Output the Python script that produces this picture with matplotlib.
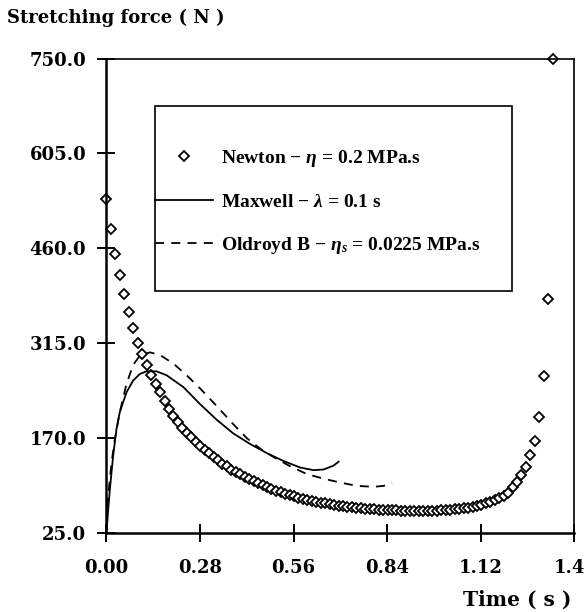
import matplotlib
matplotlib.use("Agg")
import matplotlib.pyplot as plt
from matplotlib.lines import Line2D
from matplotlib.patches import Rectangle
from matplotlib.transforms import ScaledTranslation

# Newton (eta = 0.2 MPa.s) - points
newton_t = [0.000, 0.013, 0.027, 0.040, 0.053, 0.067, 0.080, 0.094, 0.107, 0.120,
            0.134, 0.147, 0.160, 0.174, 0.187, 0.200, 0.214, 0.227, 0.240, 0.254,
            0.267, 0.281, 0.294, 0.307, 0.321, 0.334, 0.347, 0.361, 0.374, 0.387,
            0.401, 0.414, 0.428, 0.441, 0.454, 0.468, 0.481, 0.494, 0.508, 0.521,
            0.534, 0.548, 0.561, 0.574, 0.588, 0.601, 0.615, 0.628, 0.641, 0.655,
            0.668, 0.681, 0.695, 0.708, 0.721, 0.735, 0.748, 0.762, 0.775, 0.788,
            0.802, 0.815, 0.828, 0.842, 0.855, 0.868, 0.882, 0.895, 0.908, 0.922,
            0.935, 0.949, 0.962, 0.975, 0.989, 1.002, 1.015, 1.029, 1.042, 1.055,
            1.069, 1.082, 1.096, 1.109, 1.122, 1.136, 1.149, 1.162, 1.176, 1.189,
            1.202, 1.216, 1.229, 1.242, 1.256, 1.269, 1.283, 1.296, 1.309, 1.323,
            1.336]
newton_f = [535, 490, 452, 419, 390, 362, 338, 316, 298, 282,
            267, 253, 240, 227, 215, 204, 194, 185, 178, 171,
            164, 158, 152, 147, 141, 136, 131, 127, 122, 118,
            114.5, 111, 107.5, 104, 101, 98, 95, 92, 89.5, 87,
            85, 83, 81, 79, 77.5, 76, 74.5, 73, 71.5, 70.5,
            69.3, 68, 67, 66, 65.2, 64.4, 63.7, 63, 62.3, 61.8,
            61.3, 60.8, 60.4, 60, 59.7, 59.4, 59.2, 59, 58.9, 58.8,
            58.8, 58.8, 58.9, 59, 59.2, 59.5, 59.9, 60.4, 61, 61.7,
            62.6, 63.7, 65, 66.5, 68.3, 70.5, 73, 75, 78.5, 82,
            86, 95, 103, 113, 126, 144, 166, 202, 265, 382,
            750]

# Maxwell (lambda = 0.1 s) - solid line
maxwell_t = [0.0, 0.005, 0.01, 0.02, 0.03, 0.04, 0.06, 0.08, 0.10, 0.12, 0.15,
             0.18, 0.23, 0.28, 0.33, 0.38, 0.43, 0.48, 0.53, 0.58, 0.62, 0.65,
             0.68, 0.695]
maxwell_f = [25, 60, 91, 143, 184, 210, 240, 258, 268, 272, 272,
             266, 248, 222, 198, 177, 161, 147, 135, 125, 121, 122,
             128, 134]

# Oldroyd B (eta_s = 0.0225 MPa.s) - dashed line
oldroyd_t = [0.0, 0.005, 0.015, 0.025, 0.04, 0.06, 0.08, 0.10, 0.13, 0.16, 0.20,
             0.24, 0.28, 0.33, 0.38, 0.42, 0.46, 0.50, 0.55, 0.60, 0.65, 0.70,
             0.75, 0.80, 0.83, 0.855]
oldroyd_f = [40, 81, 132, 168, 210, 253, 282, 296, 301, 297, 284,
             266, 246, 219, 191, 170, 154, 141, 127, 115, 108, 102,
             97, 95.5, 97, 101]

xticks = [0.0, 0.28, 0.56, 0.84, 1.12, 1.4]
xlabels = ["0.00", "0.28", "0.56", "0.84", "1.12", "1.4"]
yticks = [25.0, 170.0, 315.0, 460.0, 605.0, 750.0]

tick_font = {"family": "DejaVu Serif", "weight": "bold", "size": 13}
leg_font = {"family": "Liberation Serif", "weight": "bold", "size": 14}

plt.rcParams["mathtext.fontset"] = "custom"
plt.rcParams["mathtext.it"] = "Liberation Serif:italic:bold"
plt.rcParams["mathtext.rm"] = "Liberation Serif:bold"

fig = plt.figure(figsize=(5.86, 6.12), dpi=100)
ax = fig.add_axes([0.1817, 0.1291, 0.7980, 0.7753])

ax.plot(newton_t, newton_f, linestyle="none", marker="D", markersize=4.6,
        markerfacecolor="white", markeredgecolor="black", markeredgewidth=1.3,
        clip_on=False)
ax.plot(maxwell_t, maxwell_f, color="black", lw=1.3)
ax.plot(oldroyd_t, oldroyd_f, color="black", lw=1.3, dashes=(5, 4))

ax.set_xlim(0, 1.4)
ax.set_ylim(25, 750)
ax.set_xticks(xticks)
ax.set_xticklabels(xlabels, fontdict=tick_font)
ax.set_yticks(yticks)
ax.set_yticklabels(["%.1f" % v for v in yticks], fontdict=tick_font)
ax.tick_params(axis="both", direction="inout", length=13, width=1.4, color="black")
ax.tick_params(axis="y", pad=8)
ax.tick_params(axis="x", pad=12)

# last x label sits at the figure edge, nudge it left so it stays inside
last = ax.xaxis.get_major_ticks()[-1].label1
last.set_transform(last.get_transform() + ScaledTranslation(-0.05, 0, fig.dpi_scale_trans))

for side in ["left", "bottom"]:
    ax.spines[side].set_linewidth(1.8)
for side in ["top", "right"]:
    ax.spines[side].set_linewidth(1.2)

fig.text(0.012, 0.971, "Stretching force ( N )", ha="left", va="center",
         fontfamily="DejaVu Serif", fontweight="bold", fontsize=13)
fig.text(0.975, 0.020, "Time ( s )", ha="right", va="center",
         fontfamily="DejaVu Serif", fontweight="bold", fontsize=14.5)

# legend: frame drawn as a box, entries from ax.legend without its own frame
ax.add_patch(Rectangle((0.1037, 0.5107), 0.7636, 0.3892, transform=ax.transAxes,
                       fill=False, edgecolor="black", lw=1.2, zorder=3))
handles = [
    Line2D([], [], linestyle="none", marker="D", markersize=4.6,
           markerfacecolor="white", markeredgecolor="black", markeredgewidth=1.3),
    Line2D([], [], color="black", lw=1.3),
    Line2D([], [], color="black", lw=1.3, dashes=(5, 4)),
]
labels = [r"Newton $-\ \eta$ = 0.2 MPa.s",
          r"Maxwell $-\ \lambda$ = 0.1 s",
          r"Oldroyd B $-\ \eta_{s}$ = 0.0225 MPa.s"]
leg = ax.legend(handles, labels, loc="upper left",
                bbox_to_anchor=(0.1037, 0.8114), prop=leg_font, frameon=False,
                numpoints=1, handlelength=3.0, handletextpad=0.4,
                labelspacing=1.25, borderpad=0.0, borderaxespad=0.0)

fig.savefig("out.png", dpi=100)
